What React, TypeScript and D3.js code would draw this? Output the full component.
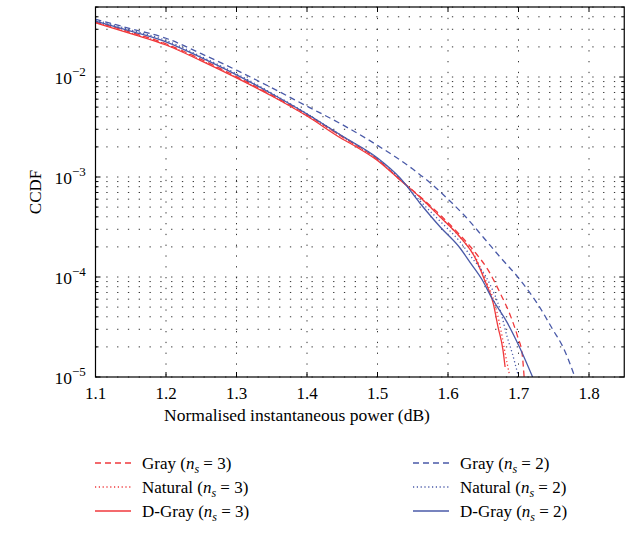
import React from "react";
import * as d3 from "d3";

const xTicks = [1.1, 1.2, 1.3, 1.4, 1.5, 1.6, 1.7, 1.8];
const yDecades = [-5, -4, -3, -2];

// Gray (ns = 3) - red dashed
const grayN3X = [1.1, 1.15, 1.2, 1.25, 1.3, 1.35, 1.4, 1.45, 1.5, 1.532, 1.56, 1.589, 1.617, 1.638, 1.657, 1.674, 1.688, 1.699, 1.705, 1.708];
const grayN3Y = [0.0355, 0.028, 0.0215, 0.015, 0.0101, 0.0066, 0.0042, 0.00252, 0.0015, 0.00094, 0.00064, 0.000417, 0.000263, 0.000178, 0.000117, 6.9e-5, 4.2e-5, 2.5e-5, 1.74e-5, 1.0e-5];

// Natural (ns = 3) - red dotted
const natN3X = [1.1, 1.15, 1.2, 1.25, 1.3, 1.35, 1.4, 1.45, 1.5, 1.532, 1.56, 1.589, 1.617, 1.638, 1.652, 1.667, 1.677, 1.681, 1.687];
const natN3Y = [0.0352, 0.0276, 0.0212, 0.0147, 0.0099, 0.0065, 0.0041, 0.0025, 0.00149, 0.00094, 0.00063, 0.0004, 0.00025, 0.000162, 9.8e-5, 5.2e-5, 2.5e-5, 1.74e-5, 1.07e-5];

// D-Gray (ns = 3) - red solid
const dgN3X = [1.1, 1.15, 1.2, 1.25, 1.3, 1.35, 1.4, 1.45, 1.47, 1.499, 1.532, 1.56, 1.589, 1.617, 1.638, 1.652, 1.664, 1.671, 1.678, 1.681];
const dgN3Y = [0.0349, 0.0272, 0.0209, 0.0145, 0.0098, 0.00646, 0.00407, 0.0024, 0.002, 0.00148, 0.000933, 0.000631, 0.000398, 0.000251, 0.000158, 9.3e-5, 5.5e-5, 3.16e-5, 1.86e-5, 1.26e-5];

// Gray (ns = 2) - blue dashed
const grayN2X = [1.1, 1.15, 1.2, 1.25, 1.3, 1.35, 1.4, 1.45, 1.5, 1.55, 1.575, 1.6, 1.625, 1.65, 1.675, 1.7, 1.73, 1.749, 1.763, 1.78];
const grayN2Y = [0.0378, 0.0304, 0.0244, 0.0171, 0.0117, 0.0078, 0.0051, 0.00334, 0.00207, 0.0012, 0.00087, 0.0006, 0.0004, 0.00025, 0.000155, 9.8e-5, 5.0e-5, 2.95e-5, 2.0e-5, 1.0e-5];

// Natural (ns = 2) - blue dotted
const natN2X = [1.1, 1.15, 1.2, 1.25, 1.3, 1.35, 1.4, 1.45, 1.5, 1.532, 1.56, 1.589, 1.617, 1.631, 1.66, 1.674, 1.684, 1.691, 1.699];
const natN2Y = [0.037, 0.0296, 0.0232, 0.016, 0.0108, 0.0069, 0.0043, 0.00256, 0.00152, 0.00096, 0.00058, 0.00036, 0.000225, 0.000166, 8.3e-5, 4.7e-5, 2.5e-5, 1.74e-5, 1.07e-5];

// D-Gray (ns = 2) - blue solid
const dgN2X = [1.1, 1.15, 1.2, 1.25, 1.3, 1.35, 1.4, 1.45, 1.5, 1.532, 1.56, 1.589, 1.617, 1.631, 1.648, 1.662, 1.684, 1.702, 1.72];
const dgN2Y = [0.0363, 0.0288, 0.0225, 0.0156, 0.0105, 0.0068, 0.00427, 0.00257, 0.00155, 0.00098, 0.00055, 0.000316, 0.000195, 0.000141, 9.5e-5, 6.2e-5, 3.5e-5, 1.95e-5, 1.0e-5];

const RED = "#f0393c";
const BLUE = "#4a5aa8";
const DASH = "6,4";
const DOT = "1.2,2.6";

const series = [
  { name: "Gray", ns: 3, xs: grayN3X, ys: grayN3Y, color: RED, dash: DASH },
  { name: "Natural", ns: 3, xs: natN3X, ys: natN3Y, color: RED, dash: DOT },
  { name: "D-Gray", ns: 3, xs: dgN3X, ys: dgN3Y, color: RED, dash: "" },
  { name: "Gray", ns: 2, xs: grayN2X, ys: grayN2Y, color: BLUE, dash: DASH },
  { name: "Natural", ns: 2, xs: natN2X, ys: natN2Y, color: BLUE, dash: DOT },
  { name: "D-Gray", ns: 2, xs: dgN2X, ys: dgN2Y, color: BLUE, dash: "" },
];

const W = 635, H = 539;
const L = 95.5, R = 624.25, T = 7, B = 377;
const FONT = "Liberation Serif, serif";
const TS = { fontFamily: FONT };

export default function App() {
  const x = d3.scaleLinear().domain([1.1, 1.85]).range([L, R]);
  const y = d3.scaleLog().domain([1e-5, Math.pow(10, -1.3)]).range([B, T]);

  const gridY: number[] = [];
  for (let e = -5; e <= -2; e++) {
    for (let m = 1; m <= 9; m++) {
      const v = m * Math.pow(10, e);
      if (v <= Math.pow(10, -1.3) && v >= 1e-5) gridY.push(v);
    }
  }

  const line = d3
    .line<[number, number]>()
    .x((d) => x(d[0]))
    .y((d) => y(d[1]))
    .curve(d3.curveMonotoneX);

  const rowY = [463, 487, 511];

  return (
    <svg
      width={W}
      height={H}
      style={{ position: "absolute", left: 0, top: 0, background: "#fff", fontFamily: FONT }}
    >
      <defs>
        <clipPath id="plotclip">
          <rect x={L} y={T} width={R - L} height={B - T} />
        </clipPath>
      </defs>
      {/* grid */}
      <g stroke="#333" strokeWidth={1} strokeDasharray="1.3,9.5" fill="none">
        {gridY.map((v, i) => (
          <line key={"gy" + i} x1={L} x2={R} y1={y(v)} y2={y(v)} />
        ))}
        {xTicks.slice(1).map((v, i) => (
          <line key={"gx" + i} x1={x(v)} x2={x(v)} y1={T} y2={B} />
        ))}
      </g>
      {/* curves */}
      <g clipPath="url(#plotclip)" fill="none">
        {series.map((s, i) => (
          <path
            key={i}
            d={line(s.xs.map((xv, j) => [xv, s.ys[j]] as [number, number])) || ""}
            stroke={s.color}
            strokeWidth={1.3}
            strokeDasharray={s.dash || undefined}
          />
        ))}
      </g>
      {/* ticks */}
      <g stroke="#000" strokeWidth={1}>
        {xTicks.map((v, i) => (
          <g key={"xt" + i}>
            <line x1={x(v)} x2={x(v)} y1={B} y2={B - 5} />
            <line x1={x(v)} x2={x(v)} y1={T} y2={T + 5} />
          </g>
        ))}
        {gridY.map((v, i) => {
          const major = Math.abs(Math.log10(v) - Math.round(Math.log10(v))) < 1e-9;
          const len = major ? 5 : 3;
          return (
            <g key={"yt" + i}>
              <line x1={L} x2={L + len} y1={y(v)} y2={y(v)} />
              <line x1={R} x2={R - len} y1={y(v)} y2={y(v)} />
            </g>
          );
        })}
      </g>
      {/* frame */}
      <rect x={L} y={T} width={R - L} height={B - T} fill="none" stroke="#000" strokeWidth={1.2} />
      {/* x tick labels */}
      <g fontSize={17} textAnchor="middle" fill="#000">
        {xTicks.map((v, i) => (
          <text key={"xl" + i} x={x(v)} y={B + 22} style={TS}>
            {v.toFixed(1)}
          </text>
        ))}
      </g>
      {/* y tick labels */}
      <g fontSize={17.5} fill="#000">
        {yDecades.map((e, i) => (
          <text key={"yl" + i} x={L - 41} y={y(Math.pow(10, e)) + 7} style={TS}>
            10
            <tspan fontSize={13} dy={-8}>
              {"\u2212" + Math.abs(e)}
            </tspan>
          </text>
        ))}
      </g>
      {/* axis titles */}
      <text x={297} y={421} fontSize={17.5} textAnchor="middle" fill="#000" style={TS}>
        Normalised instantaneous power (dB)
      </text>
      <text
        transform={`translate(41, ${(T + B) / 2}) rotate(-90)`}
        fontSize={17}
        textAnchor="middle"
        fill="#000"
        style={TS}
      >
        CCDF
      </text>
      {/* legend */}
      {series.map((s, i) => {
        const col = i < 3 ? 0 : 1;
        const row = i % 3;
        const lx = col === 0 ? 95 : 413;
        const ly = rowY[row];
        return (
          <g key={"lg" + i}>
            <line
              x1={lx}
              x2={lx + 36}
              y1={ly}
              y2={ly}
              stroke={s.color}
              strokeWidth={1.3}
              strokeDasharray={s.dash || undefined}
            />
            <text x={lx + 47} y={ly + 6} fontSize={17} fill="#000" style={TS}>
              {s.name + " ("}
              <tspan fontStyle="italic">n</tspan>
              <tspan fontStyle="italic" fontSize={12} dy={4}>s</tspan>
              <tspan dy={-4}>{" = " + s.ns + ")"}</tspan>
            </text>
          </g>
        );
      })}
    </svg>
  );
}
